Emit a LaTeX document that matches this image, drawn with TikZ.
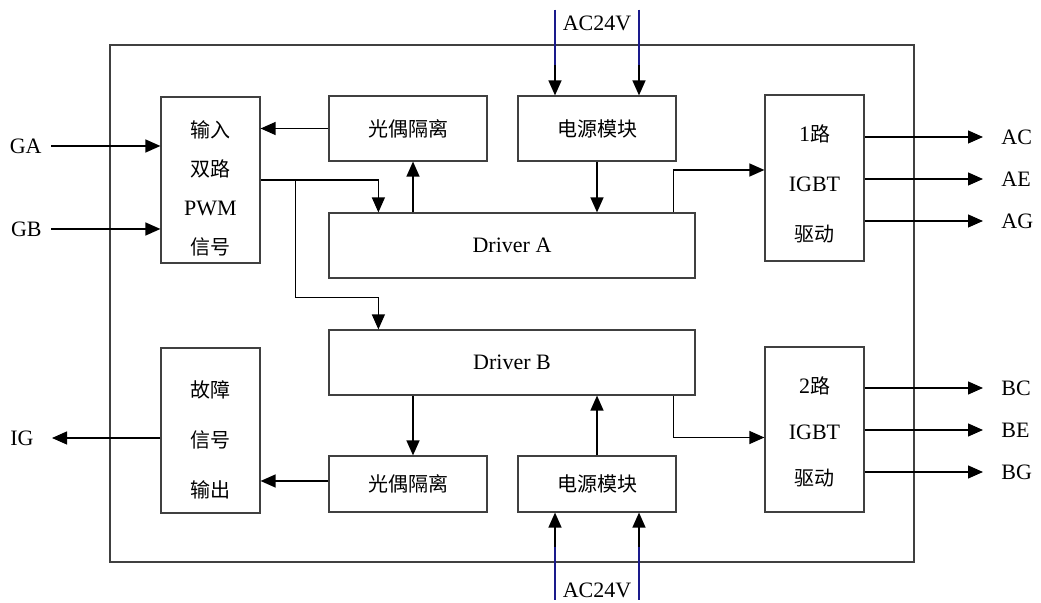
\documentclass[tikz,border=0pt]{standalone}
\usepackage{fontspec}
\setmainfont{Liberation Serif}
\newfontfamily\cjk{Noto Sans CJK SC}
\usetikzlibrary{arrows.meta, positioning, calc}
\definecolor{boxgray}{HTML}{404040}
\definecolor{acblue}{HTML}{1A1A8C}
\newcommand{\zh}[1]{{\cjk\fontsize{10}{13}\selectfont #1}}

\begin{document}
\begin{tikzpicture}[x=0.5pt, y=-0.5pt,
    box/.style={draw=boxgray, line width=0.6pt, inner sep=2pt, align=center, font=\fontsize{11}{13}\selectfont},
    boxtxt/.style={align=center, font=\fontsize{11}{13}\selectfont},
    arr/.style={-{Triangle[length=7.5pt, width=6.5pt]}, line width=0.65pt},
    pinl/.style={font=\fontsize{11}{13}\selectfont, inner ysep=1pt, inner xsep=9pt},
    acline/.style={line width=0.65pt, acblue},
]
\useasboundingbox (0,0) rectangle (1041,603);

% Frame
\node[draw=boxgray, line width=0.6pt, minimum width=402pt, minimum height=258.5pt] (frame) at (512,303.5) {};

% Channel A
\node[box, minimum width=49.5pt, minimum height=83pt,
    label={[boxtxt, yshift=-4pt]center:{\zh{输入}\\[6.5pt]\zh{双路}\\[6.5pt]PWM\\[6.5pt]\zh{信号}}}] (inp) at (210.5,180) {};
\node[box, minimum width=79pt, minimum height=32.5pt] (optA) at (408,128.5) {\zh{光偶隔离}};
\node[box, minimum width=79pt, minimum height=32.5pt] (pwrA) at (597,128.5) {\zh{电源模块}};
\node[box, minimum width=183pt, minimum height=32.5pt] (drvA) at (512,245.5) {Driver A};
\node[box, minimum width=49.5pt, minimum height=83pt,
    label={[boxtxt, yshift=-3pt]center:{1\zh{路}\\[12pt]IGBT\\[12pt]\zh{驱动}}}] (igbtA) at (814.5,178) {};

% Channel B
\node[box, minimum width=49.5pt, minimum height=82.5pt,
    label={[boxtxt, yshift=-4.5pt]center:{\zh{故障}\\[12pt]\zh{信号}\\[12pt]\zh{输出}}}] (fault) at (210.5,430.5) {};
\node[box, minimum width=183pt, minimum height=32.5pt] (drvB) at (512,362.5) {Driver B};
\node[box, minimum width=79pt, minimum height=28pt] (optB) at (408,484) {\zh{光偶隔离}};
\node[box, minimum width=79pt, minimum height=28pt] (pwrB) at (597,484) {\zh{电源模块}};
\node[box, minimum width=49.5pt, minimum height=82.5pt,
    label={[boxtxt, yshift=-1pt]center:{2\zh{路}\\[10pt]IGBT\\[10pt]\zh{驱动}}}] (igbtB) at (814.5,429.5) {};

% Terminals
\node[pinl, anchor=east, inner xsep=4.5pt] (GA) at (51,146) {GA};
\node[pinl, anchor=east, inner xsep=4.5pt] (GB) at (51,229) {GB};
\node[pinl, anchor=east] (IG) at (52,438) {IG};
\node[pinl, anchor=west] (AC) at (983,137) {AC};
\node[pinl, anchor=west] (AE) at (983,179) {AE};
\node[pinl, anchor=west] (AG) at (983,221) {AG};
\node[pinl, anchor=west] (BC) at (983,388) {BC};
\node[pinl, anchor=west] (BE) at (983,430) {BE};
\node[pinl, anchor=west] (BG) at (983,472) {BG};
\node[pinl] (acA) at (597,23) {AC24V};
\node[pinl] (acB) at (597,590) {AC24V};
\coordinate (acA1) at (555,10);
\coordinate (acA2) at (639,10);
\coordinate (acB1) at (555,600);
\coordinate (acB2) at (639,600);

% Inputs
\draw[arr] (GA) -- (GA -| inp.west);
\draw[arr] (GB) -- (GB -| inp.west);
\coordinate (inA) at ([xshift=25pt]drvA.north west);
\coordinate (inB) at ([xshift=25pt]drvB.north west);
\coordinate (br) at ([xshift=17.5pt]inp.east);
\draw[arr] (inp.east) -| (inA);
\draw[arr] (br) |- ([yshift=16pt]inB) -- (inB);

% Channel A links
\coordinate (fbA) at ([xshift=2.5pt]optA.south);
\draw[arr] (fbA |- drvA.north) -- (fbA);
\draw[arr] (optA.west) -- (optA.west -| inp.east);
\draw[arr] (pwrA.south) -- (pwrA.south |- drvA.north);
\coordinate (outA) at ([xshift=-11pt]drvA.north east);
\draw[arr] (outA) |- ([yshift=4pt]igbtA.west);
\foreach \t in {AC,AE,AG}
    \draw[arr] (igbtA.east |- \t) -- (\t);

% Channel B links
\coordinate (fbB) at ([xshift=2.5pt]optB.north);
\draw[arr] (fbB |- drvB.south) -- (fbB);
\coordinate (fbF) at ([yshift=1.5pt]optB.west);
\draw[arr] (fbF) -- (fbF -| fault.east);
\draw[arr] (fault.west |- IG) -- (IG);
\draw[arr] (pwrB.north) -- (pwrB.north |- drvB.south);
\coordinate (outB) at ([xshift=-11pt]drvB.south east);
\draw[arr] (outB) |- ([yshift=-4pt]igbtB.west);
\foreach \t in {BC,BE,BG}
    \draw[arr] (igbtB.east |- \t) -- (\t);

% AC24V supply
\draw[arr] (acA1) -- (acA1 |- pwrA.north);
\draw[arr] (acA2) -- (acA2 |- pwrA.north);
\draw[acline] (acA1) -- ++(0,55);
\draw[acline] (acA2) -- ++(0,55);
\draw[arr] (acB1) -- (acB1 |- pwrB.south);
\draw[arr] (acB2) -- (acB2 |- pwrB.south);
\draw[acline] (acB1) -- ++(0,-53);
\draw[acline] (acB2) -- ++(0,-53);

\end{tikzpicture}
\end{document}
